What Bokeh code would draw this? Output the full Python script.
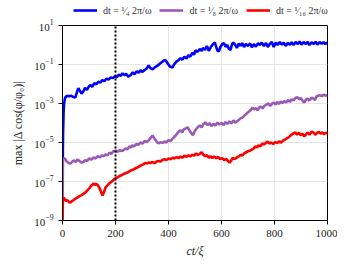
from bokeh.plotting import figure
from bokeh.models import FixedTicker, Legend, LegendItem
from bokeh.layouts import column
from bokeh.embed import file_html
from bokeh.resources import INLINE

# ---- data (as log10 of the quantity) ----
blue_x = [0, 1, 2, 4, 6, 9, 12, 18, 25, 32, 40, 48, 55, 60, 66, 72, 78, 85, 92, 100,
          106, 112, 120, 128, 135, 143, 150, 158, 166, 174, 182, 190, 198, 205, 212, 220,
          226, 233, 240, 248, 257, 265, 272, 280, 288, 294, 302, 310, 318, 325, 333, 340,
          351, 360, 368, 375, 382, 389, 397, 405, 415, 422, 430, 438, 445, 452, 460, 468,
          475, 482, 490, 496, 502, 510, 518, 525, 530, 538, 545, 552, 560, 568, 575, 580,
          585, 590, 596, 603, 610, 615, 622, 628, 634, 640, 645, 652, 658, 665, 672, 678,
          685, 692, 700, 708, 715, 722, 730, 738, 745, 752, 760, 768, 775, 782, 790, 797,
          805, 812, 820, 828, 835, 842, 850, 858, 865, 872, 880, 888, 895, 902, 910, 918,
          925, 932, 940, 948, 955, 962, 970, 978, 985, 992, 1000]
blue_log10 = [-9, -6, -4.6, -3.5, -3.0, -2.75, -2.66, -2.6, -2.63, -2.6, -2.66, -2.7, -2.4,
              -2.22, -2.35, -2.5, -2.4, -2.2, -2.3, -2.12, -2.05, -2.15, -1.95, -2.02, -1.88,
              -1.92, -1.8, -1.85, -1.72, -1.78, -1.66, -1.7, -1.6, -1.66, -1.52, -1.58, -1.45,
              -1.55, -1.48, -1.62, -1.55, -1.4, -1.5, -1.35, -1.42, -1.3, -1.38, -1.28, -1.2,
              -1.05, -1.2, -1.25, -1.12, -1.05, -0.95, -0.88, -0.8, -0.78, -0.95, -1.1, -1.15,
              -0.98, -0.85, -0.78, -0.68, -0.75, -0.6, -0.7, -0.52, -0.6, -0.4, -0.5, -0.28,
              -0.35, -0.2, -0.3, -0.15, -0.25, -0.05, -0.3, -0.1, 0.05, 0.12, -0.1, -0.3,
              -0.32, -0.1, 0.05, 0.1, -0.1, 0.0, -0.2, -0.25, 0.05, 0.12, 0.0, -0.15, 0.08,
              -0.05, 0.1, -0.1, 0.05, -0.05, 0.08, -0.12, 0.05, -0.08, 0.1, 0.0, 0.12, -0.05,
              0.1, -0.1, 0.05, 0.15, -0.1, 0.12, 0.0, 0.15, 0.02, 0.12, -0.05, 0.1, 0.02, 0.14,
              0.0, 0.15, 0.05, 0.18, 0.02, 0.15, 0.05, 0.16, 0.0, 0.14, 0.05, 0.17, 0.02, 0.15,
              0.06, 0.14, 0.05, 0.12]

purple_x = [0, 1.5, 5, 10, 15, 22, 30, 37, 44, 50, 57, 64, 72, 79, 86, 93, 100, 108, 117,
            125, 133, 141, 148, 155, 162, 170, 177, 184, 192, 200, 208, 216, 223, 230, 238,
            245, 252, 258, 264, 270, 278, 286, 294, 302, 310, 318, 325, 333, 340, 347, 355,
            362, 370, 378, 385, 392, 400, 408, 415, 420, 428, 435, 440, 446, 452, 458, 465,
            472, 478, 485, 492, 498, 505, 512, 518, 525, 532, 540, 547, 555, 562, 570, 577,
            585, 592, 600, 608, 615, 622, 630, 637, 645, 652, 660, 667, 673, 679, 686, 692,
            698, 705, 711, 717, 723, 730, 736, 742, 748, 755, 762, 770, 777, 784, 790, 797,
            804, 810, 817, 824, 830, 837, 844, 851, 858, 865, 872, 879, 887, 893, 900, 907,
            913, 918, 925, 932, 940, 947, 953, 958, 964, 970, 978, 985, 992, 1000]
purple_log10 = [-9.5, -5.9, -5.8, -5.85, -5.95, -6.05, -6.08, -5.98, -5.92, -6.0, -5.87, -5.95,
                -6.03, -6.0, -5.9, -5.95, -5.82, -5.88, -5.77, -5.82, -5.7, -5.76, -5.66, -5.7,
                -5.62, -5.66, -5.52, -5.58, -5.45, -5.42, -5.48, -5.38, -5.44, -5.4, -5.3,
                -5.36, -5.2, -5.25, -5.15, -5.2, -5.08, -5.12, -5.0, -5.06, -4.92, -4.98, -4.9,
                -4.75, -4.64, -4.8, -4.95, -5.05, -4.98, -5.02, -4.95, -5.0, -4.88, -4.92, -4.8,
                -4.74, -4.62, -4.5, -4.42, -4.38, -4.48, -4.32, -4.28, -4.22, -4.35, -4.5,
                -4.62, -4.45, -4.3, -4.2, -4.12, -4.22, -4.05, -3.97, -4.1, -4.02, -4.15, -4.05,
                -4.12, -3.98, -4.08, -4.0, -4.1, -3.95, -4.05, -3.92, -4.02, -3.87, -3.98, -3.9,
                -3.82, -3.75, -3.72, -3.62, -3.55, -3.48, -3.4, -3.32, -3.21, -3.3, -3.24,
                -3.35, -3.22, -3.15, -3.25, -3.12, -3.05, -3.0, -3.12, -3.02, -2.95, -3.05,
                -2.92, -3.02, -2.9, -2.98, -2.88, -2.95, -2.82, -2.92, -2.78, -2.85, -2.72,
                -2.68, -2.78, -2.72, -2.88, -2.95, -2.8, -2.75, -2.85, -2.7, -2.74, -2.82,
                -2.65, -2.6, -2.58, -2.62, -2.55, -2.6, -2.57]

red_x = [0, 1.5, 4, 8, 13, 18, 24, 30, 36, 42, 49, 57, 64, 72, 80, 87, 94, 101, 108, 114,
         117, 122, 128, 134, 140, 146, 151, 155, 159, 162, 168, 175, 181, 188, 195, 202, 208,
         215, 222, 230, 238, 245, 252, 260, 268, 276, 283, 290, 298, 305, 312, 320, 325, 332,
         340, 347, 355, 362, 370, 377, 385, 392, 400, 407, 415, 422, 430, 437, 445, 452, 460,
         468, 475, 482, 490, 497, 504, 511, 518, 525, 531, 538, 545, 552, 558, 565, 572, 580,
         587, 595, 602, 610, 617, 625, 630, 636, 642, 648, 653, 660, 667, 673, 679, 686, 693,
         700, 709, 716, 722, 728, 734, 740, 747, 754, 760, 767, 774, 780, 787, 795, 802, 810,
         817, 825, 832, 840, 847, 853, 860, 866, 873, 879, 885, 892, 899, 906, 912, 918, 925,
         932, 940, 947, 954, 960, 967, 974, 980, 987, 994, 1000]
red_log10 = [-9.5, -8.0, -7.82, -7.9, -8.0, -7.95, -8.05, -8.08, -8.0, -7.95, -7.88, -7.82,
             -7.75, -7.7, -7.62, -7.56, -7.45, -7.35, -7.22, -7.15, -7.1, -7.18, -7.12, -7.2,
             -7.35, -7.55, -7.72, -7.6, -7.45, -7.31, -7.22, -7.12, -7.05, -6.98, -6.88, -6.82,
             -6.8, -6.72, -6.68, -6.62, -6.58, -6.54, -6.48, -6.42, -6.38, -6.32, -6.28, -6.22,
             -6.16, -6.12, -6.05, -6.08, -6.02, -6.05, -6.0, -6.06, -5.98, -5.95, -5.98, -5.9,
             -5.85, -5.9, -5.82, -5.86, -5.78, -5.82, -5.75, -5.8, -5.72, -5.78, -5.68, -5.74,
             -5.65, -5.72, -5.62, -5.68, -5.56, -5.64, -5.58, -5.5, -5.62, -5.7, -5.65, -5.78,
             -5.7, -5.8, -5.72, -5.8, -5.74, -5.85, -5.8, -5.9, -5.84, -5.95, -6.03, -5.95,
             -5.78, -5.85, -5.82, -5.75, -5.7, -5.62, -5.67, -5.55, -5.5, -5.45, -5.41, -5.35,
             -5.3, -5.2, -5.25, -5.15, -5.2, -5.05, -5.1, -5.02, -4.95, -5.05, -5.0, -5.08,
             -4.98, -5.02, -4.95, -5.0, -4.9, -4.85, -4.78, -4.74, -4.65, -4.58, -4.52, -4.49,
             -4.6, -4.5, -4.62, -4.55, -4.68, -4.6, -4.5, -4.6, -4.45, -4.49, -4.6, -4.52,
             -4.45, -4.55, -4.48, -4.58, -4.5, -4.52]

series_labels = ["dt = ¹⁄₄ 2π/ω", "dt = ¹⁄₈ 2π/ω", "dt = ¹⁄₁₆ 2π/ω"]
series_colors = ["#0000ff", "#9b59b6", "#ff0000"]
marker_x = 200
y_ticks = [1e-9, 1e-7, 1e-5, 1e-3, 1e-1, 1e1]
x_ticks = [0, 200, 400, 600, 800, 1000]

FONT = "Liberation Serif"
W = 337
W_LEGEND = 344

series = [(blue_x, [10 ** v for v in blue_log10], series_colors[0]),
          (purple_x, [10 ** v for v in purple_log10], series_colors[1]),
          (red_x, [10 ** v for v in red_log10], series_colors[2])]

p = figure(frame_width=265, frame_height=195, y_axis_type="log", x_range=(0, 1000),
           y_range=(1e-9, 10), output_backend="svg", toolbar_location=None,
           min_border_left=62, min_border_right=10, min_border_top=8, min_border_bottom=40)
p.outline_line_color = "black"
p.outline_line_width = 1

for xs, ys, c in series:
    p.line(xs, ys, line_color=c, line_width=2.6)

p.line([marker_x, marker_x], [1e-9, 10], line_color="black", line_width=2, line_dash="2 2")

p.xaxis.ticker = FixedTicker(ticks=x_ticks)
p.yaxis.ticker = FixedTicker(ticks=y_ticks, minor_ticks=[])
p.xaxis.minor_tick_line_color = None
p.yaxis.minor_tick_line_color = None
p.xaxis.major_tick_out = 4
p.xaxis.major_tick_in = 0
p.yaxis.major_tick_out = 4
p.yaxis.major_tick_in = 0
for ax in (p.xaxis, p.yaxis):
    ax.axis_line_color = "black"
    ax.major_tick_line_color = "black"
    ax.major_label_text_font = FONT
    ax.major_label_text_font_size = "11px"
    ax.major_label_text_color = "#222222"
    ax.axis_label_text_font = FONT
    ax.axis_label_text_font_size = "12px"
    ax.axis_label_text_color = "#222222"
    ax.axis_label_text_font_style = "normal"
p.xaxis.axis_label = "ct/ξ"
p.xaxis.axis_label_text_font_style = "italic"
p.yaxis.axis_label = "max |Δ cos(φ/φ₀)|"
p.yaxis.axis_label_standoff = 6
p.xaxis.axis_label_standoff = 4

p.xgrid.grid_line_color = "#e5e5e5"
p.ygrid.grid_line_color = "#e5e5e5"
p.xgrid.ticker = FixedTicker(ticks=[200, 400, 600, 800])
p.ygrid.ticker = FixedTicker(ticks=y_ticks[1:-1])

# ---- legend strip above the plot (same series, drawn out of its view) ----
lg = figure(width=W_LEGEND, height=17, x_range=(0, 1000), y_range=(100, 101),
            output_backend="svg", toolbar_location=None, x_axis_location=None,
            y_axis_location=None, min_border=0, min_border_left=0, min_border_right=0,
            min_border_top=0, min_border_bottom=0)
lg.outline_line_color = None
lg.grid.visible = False
lg_renderers = [lg.line(xs, ys, line_color=c, line_width=2.6) for xs, ys, c in series]
legend = Legend(items=[LegendItem(label=series_labels[i], renderers=[lg_renderers[i]])
                       for i in range(3)],
                orientation="horizontal", location=(11, 1), border_line_color=None,
                background_fill_alpha=0, label_text_font=FONT, label_text_font_size="10px",
                label_text_color="#333333", glyph_width=24, glyph_height=12, spacing=8,
                padding=1, margin=0, label_standoff=6)
lg.add_layout(legend, "center")

layout = column(lg, p, spacing=0)
open("out.html", "w").write(file_html(layout, INLINE))
